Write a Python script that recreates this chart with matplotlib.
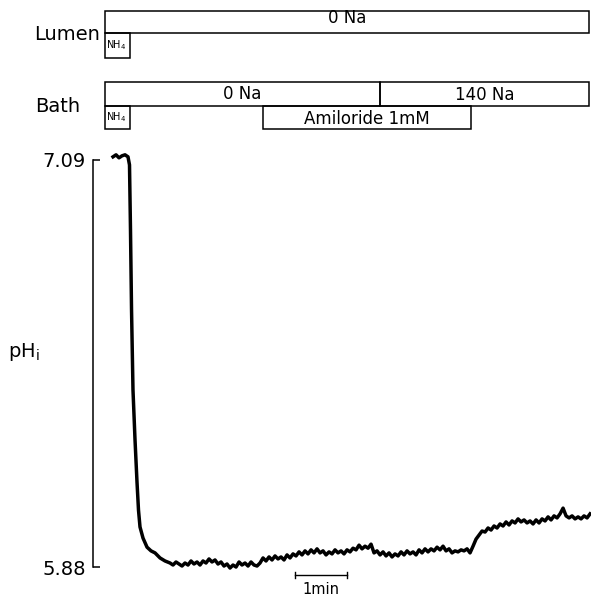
import numpy as np
import matplotlib
matplotlib.use("Agg")
import matplotlib.pyplot as plt
from matplotlib.patches import Rectangle

# ---------------- data ----------------
# early part of the trace (time in min, pH)
t_early = [0.154, 0.212, 0.269, 0.327, 0.385, 0.442, 0.471, 0.490, 0.510, 0.538,
           0.577, 0.615, 0.644, 0.673, 0.731, 0.808, 0.885, 0.962, 1.058, 1.154]
ph_early = [7.099, 7.105, 7.096, 7.102, 7.105, 7.099, 7.075, 6.882, 6.644, 6.406,
            6.258, 6.133, 6.049, 5.999, 5.966, 5.939, 5.928, 5.922, 5.907, 5.898]

# remainder of the recording, sampled every dt minutes from t_start
t_start = 1.250
dt = 0.0577
ph_late = [
    5.892, 5.886, 5.895, 5.889, 5.883, 5.892, 5.886, 5.898, 5.889, 5.895,
    5.886, 5.898, 5.892, 5.904, 5.895, 5.901, 5.889, 5.895, 5.883, 5.889,
    5.877, 5.886, 5.880, 5.895, 5.886, 5.892, 5.883, 5.895, 5.886, 5.883,
    5.892, 5.907, 5.898, 5.910, 5.901, 5.913, 5.904, 5.910, 5.901, 5.916,
    5.907, 5.919, 5.913, 5.925, 5.916, 5.928, 5.919, 5.931, 5.922, 5.934,
    5.922, 5.928, 5.916, 5.925, 5.919, 5.931, 5.922, 5.928, 5.919, 5.931,
    5.925, 5.936, 5.931, 5.945, 5.934, 5.942, 5.936, 5.948, 5.922, 5.928,
    5.916, 5.925, 5.913, 5.922, 5.910, 5.919, 5.913, 5.925, 5.916, 5.928,
    5.919, 5.925, 5.916, 5.931, 5.922, 5.934, 5.925, 5.934, 5.928, 5.939,
    5.931, 5.942, 5.928, 5.934, 5.922, 5.928, 5.925, 5.931, 5.928, 5.934,
    5.922, 5.942, 5.963, 5.975, 5.987, 5.984, 5.996, 5.990, 6.002, 5.996,
    6.008, 6.002, 6.014, 6.005, 6.017, 6.011, 6.023, 6.014, 6.020, 6.011,
    6.017, 6.008, 6.020, 6.011, 6.023, 6.017, 6.029, 6.020, 6.032, 6.026,
    6.038, 6.055, 6.032, 6.026, 6.032, 6.023, 6.029, 6.023, 6.032, 6.026,
    6.038,
]

# axis ticks
y_ticks = [5.88, 7.09]
y_tick_labels = ["5.88", "7.09"]

# protocol (min)
t_end = 9.31
lumen_segments = [(0.0, t_end, "0 Na")]
lumen_nh4 = (0.0, 0.481)
bath_segments = [(0.0, 5.29, "0 Na"), (5.29, t_end, "140 Na")]
bath_nh4 = (0.0, 0.481)
amiloride = (3.04, 7.04, "Amiloride 1mM")
scale_bar = (3.65, 4.65, "1min")

# ---------------- figure ----------------
W, H = 591, 599
fig = plt.figure(figsize=(W / 100, H / 100), dpi=100)
plt.rcParams['font.family'] = ['DejaVu Sans']

xlim = (-0.231, 9.346)
ax = fig.add_axes([93 / W, 0.0, (W - 93) / W, 459 / H])
ax.set_xlim(*xlim)
ax.set_ylim(5.785, 7.149)

t_late = [t_start + i * dt for i in range(len(ph_late))]
t_all = list(t_early) + t_late
ph_all = list(ph_early) + list(ph_late)
ax.plot(t_all, ph_all, color="black", lw=2.5, solid_joinstyle="round")

for s in ["top", "right", "bottom"]:
    ax.spines[s].set_visible(False)
ax.spines["left"].set_bounds(5.88, 7.09)
ax.spines["left"].set_linewidth(1.1)
ax.set_xticks([])
ax.set_yticks(y_ticks)
ax.set_yticklabels(y_tick_labels, fontsize=14)
ax.tick_params(axis="y", direction="in", length=5, width=1.1, pad=5)

# scale bar
sb0, sb1, sbl = scale_bar
yb = 5.856
ax.plot([sb0, sb1], [yb, yb], color="black", lw=1.0)
ax.plot([sb0, sb0], [yb - 0.008, yb + 0.008], color="black", lw=1.0)
ax.plot([sb1, sb1], [yb - 0.008, yb + 0.008], color="black", lw=1.0)
ax.text((sb0 + sb1) / 2, 5.812, sbl, ha="center", va="center", fontsize=10.5)

fig.text(8 / W, 1 - 352 / H, "pH$_\\mathregular{i}$", fontsize=14, ha="left", va="center")

# ---------------- protocol bars ----------------
axp = fig.add_axes([93 / W, 1 - 140 / H, (W - 93) / W, 140 / H])
axp.set_xlim(*xlim)
axp.set_ylim(140, 0)
axp.axis("off")

lw_box = 1.1

def box(x0, x1, y0, y1):
    axp.add_patch(Rectangle((x0, y0), x1 - x0, y1 - y0, fill=False,
                            edgecolor="black", lw=lw_box, clip_on=False))

# lumen
for x0, x1, lab in lumen_segments:
    box(x0, x1, 10.7, 33)
    axp.text((x0 + x1) / 2, 18, lab, ha="center", va="center", fontsize=12)
box(lumen_nh4[0], lumen_nh4[1], 33, 58)
axp.text(lumen_nh4[0] + 0.02, 45, "NH$_4$", ha="left", va="center", fontsize=7)
axp.text(-0.096, 35, "Lumen", ha="right", va="center", fontsize=14, clip_on=False)

# bath
for x0, x1, lab in bath_segments:
    box(x0, x1, 82, 106)
for (x0, x1, lab), yc in zip(bath_segments, [94, 95]):
    axp.text((x0 + x1) / 2, yc, lab, ha="center", va="center", fontsize=12)
box(bath_nh4[0], bath_nh4[1], 106, 128.5)
axp.text(bath_nh4[0] + 0.02, 117, "NH$_4$", ha="left", va="center", fontsize=7)
box(amiloride[0], amiloride[1], 106, 128.5)
axp.text((amiloride[0] + amiloride[1]) / 2, 118.5, amiloride[2],
         ha="center", va="center", fontsize=12)
axp.text(-0.48, 107, "Bath", ha="right", va="center", fontsize=14, clip_on=False)

fig.savefig("out.png", dpi=100)
